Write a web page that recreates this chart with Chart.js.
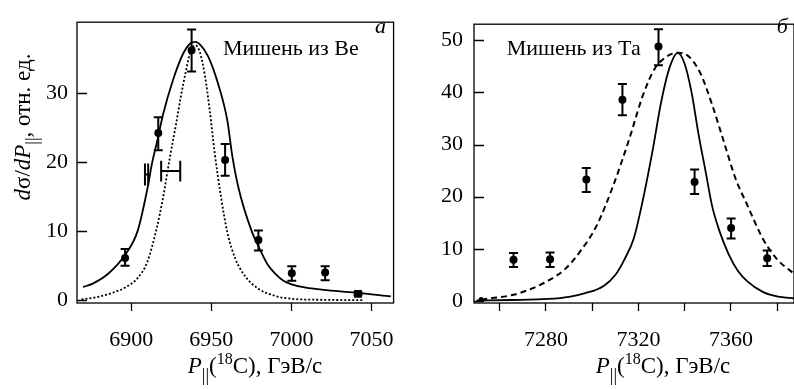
<!DOCTYPE html>
<html>
<head>
<meta charset="utf-8">
<script src="https://cdn.jsdelivr.net/npm/chart.js@4.4.0/dist/chart.umd.min.js"></script>
<style>
  body { margin: 0; background: #fff; width: 794px; height: 389px; overflow: hidden; position: relative; }
  .panel { position: absolute; top: 0; height: 389px; }
</style>
</head>
<body>
<div class="panel" style="left:0"><canvas id="chartBe" width="410" height="389"></canvas></div>
<div class="panel" style="left:410px"><canvas id="chartTa" width="388" height="389"></canvas></div>
<script>
// ---- panel a: Be target ----
const beP  = [6896.2, 6916.9, 6937.7, 6958.6, 6979.4, 7000.2, 7021.0, 7041.5];
const beY  = [6.1, 24.2, 36.2, 20.3, 8.7, 3.9, 4.0, 0.9];
const beLo = [5.0, 21.7, 33.1, 18.0, 7.2, 2.8, 2.9, 0.7];
const beHi = [7.4, 26.5, 39.2, 22.6, 10.1, 4.9, 4.9, 1.1];
// resolution bars
const resFrom = [6908.6, 6918.7];
const resTo   = [6910.6, 6930.6];
const resY    = [18.2, 18.7];
const resCap  = [1.6, 1.5];
// solid fit
const beFitP = [6870, 6876, 6886, 6896, 6904, 6910, 6913, 6916, 6920, 6926, 6932, 6937, 6940, 6943, 6948, 6954, 6960, 6963, 6967, 6975, 6980, 6985, 6990, 6995, 7000, 7009, 7020, 7040, 7062];
const beFitY = [1.9, 2.4, 3.9, 6.5, 10.0, 16.0, 19.8, 22.8, 27.0, 31.8, 35.5, 37.2, 37.4, 37.0, 35.3, 31.5, 26.0, 21.0, 16.2, 10.1, 7.5, 5.2, 3.8, 2.8, 2.3, 1.8, 1.5, 1.1, 0.55];
// dotted curve
const beDotP = [6869, 6880, 6890, 6896, 6904, 6910, 6916, 6920, 6924, 6928, 6931, 6934, 6937, 6940, 6943, 6946, 6949, 6952, 6956, 6960, 6965, 6971, 6979, 6990, 7000, 7020, 7045];
const beDotY = [0.1, 0.5, 1.2, 1.8, 3.2, 5.5, 10.5, 15.0, 20.5, 25.5, 29.5, 33.0, 36.0, 36.9, 35.8, 32.5, 27.5, 21.5, 15.0, 9.8, 6.0, 3.5, 1.7, 0.6, 0.2, 0.05, 0];
const beXTicks = [6900, 6950, 7000, 7050];
const beXLabels = ['6900', '6950', '7000', '7050'];
const beYTicks = [0, 10, 20, 30];

// ---- panel b: Ta target ----
const taP  = [7266.0, 7281.8, 7297.5, 7313.1, 7328.7, 7344.3, 7360.1, 7375.7];
const taY  = [7.9, 8.0, 23.3, 38.6, 48.8, 22.8, 14.0, 8.2];
const taLo = [6.5, 6.5, 20.9, 35.6, 45.2, 20.5, 12.0, 6.7];
const taHi = [9.2, 9.3, 25.5, 41.6, 52.1, 25.2, 15.8, 9.7];
const taFitP = [7250, 7265, 7281, 7290, 7297, 7305, 7310, 7314, 7318, 7322, 7326, 7330, 7333.5, 7337, 7340, 7343, 7346, 7349, 7352, 7355, 7359, 7363, 7367, 7374, 7380, 7388];
const taFitY = [0.1, 0.2, 0.4, 0.8, 1.5, 2.9, 5.0, 8.0, 12.0, 19.5, 28.5, 38.5, 44.8, 47.6, 45.5, 40.0, 32.0, 25.0, 18.0, 13.5, 9.0, 5.8, 3.8, 1.7, 0.9, 0.5];
const taDashP = [7252, 7266, 7274, 7281, 7288, 7295, 7302, 7309, 7316, 7322, 7327, 7332, 7337, 7342, 7347, 7352, 7357, 7362, 7367, 7374, 7380, 7388];
const taDashY = [0.3, 1.2, 2.4, 3.9, 6.0, 9.6, 14.5, 22.0, 31.0, 39.5, 44.5, 46.8, 47.6, 46.8, 43.5, 37.5, 30.5, 23.5, 18.5, 11.8, 8.0, 5.0];
const taXTicks = [7260, 7280, 7300, 7320, 7340, 7360, 7380];
const taXLabels = ['', '7280', '', '7320', '', '7360', ''];
const taYTicks = [0, 10, 20, 30, 40, 50];

const FONT = '"Liberation Serif", "Times New Roman", serif';
const INK = '#000';

const pts = (xs, ys) => xs.map((v, i) => ({ x: v, y: ys[i] }));

// draws a line of text made of runs (italic / sub / sup), centred on x
function richText(ctx, runs, x, y, size) {
  let total = 0;
  const parts = runs.map(r => {
    const fs = r.sub ? Math.round(size * 0.8) : (r.sup ? Math.round(size * 0.7) : size);
    const font = (r.it ? 'italic ' : '') + fs + 'px ' + FONT;
    ctx.font = font;
    const w = ctx.measureText(r.t).width;
    total += w;
    return { t: r.t, font, w, dy: r.sub ? size * 0.36 : (r.sup ? -size * 0.38 : 0) };
  });
  let cx = x - total / 2;
  ctx.textAlign = 'left';
  ctx.textBaseline = 'alphabetic';
  parts.forEach(p => { ctx.font = p.font; ctx.fillText(p.t, cx, y + p.dy); cx += p.w; });
}

const xTitleRuns = [{ t: 'P', it: true }, { t: '||', sub: true }, { t: '(' }, { t: '18', sup: true }, { t: 'C), ГэВ/с' }];
const yTitleRuns = [{ t: 'd', it: true }, { t: 'σ' }, { t: '/' }, { t: 'd', it: true }, { t: 'P', it: true }, { t: '||', sub: true }, { t: ', отн. ед.' }];

function panelPlugin(o) {
  return {
    id: 'panelDecor',
    afterDatasetsDraw(chart) {
      const { ctx, chartArea: a, scales: { x, y } } = chart;
      ctx.save();
      ctx.strokeStyle = INK;
      ctx.fillStyle = INK;
      ctx.lineWidth = 1.3;
      ctx.strokeRect(a.left, a.top, a.right - a.left, a.bottom - a.top);
      // inward y ticks
      ctx.beginPath();
      o.yTicks.forEach(v => {
        const py = Math.round(y.getPixelForValue(v)) + 0.5;
        ctx.moveTo(a.left, py); ctx.lineTo(a.left + 10, py);
      });
      ctx.stroke();
      // vertical error bars
      ctx.lineWidth = 2;
      ctx.beginPath();
      o.p.forEach((p, i) => {
        const px = x.getPixelForValue(p);
        const y1 = y.getPixelForValue(o.lo[i]);
        const y2 = y.getPixelForValue(o.hi[i]);
        ctx.moveTo(px, y1); ctx.lineTo(px, y2);
        ctx.moveTo(px - 4.5, y1); ctx.lineTo(px + 4.5, y1);
        ctx.moveTo(px - 4.5, y2); ctx.lineTo(px + 4.5, y2);
      });
      ctx.stroke();
      // horizontal resolution bars
      if (o.res) {
        ctx.beginPath();
        o.res.from.forEach((f, i) => {
          const x1 = x.getPixelForValue(f), x2 = x.getPixelForValue(o.res.to[i]);
          const py = y.getPixelForValue(o.res.y[i]);
          const c1 = y.getPixelForValue(o.res.y[i] + o.res.cap[i]);
          const c2 = y.getPixelForValue(o.res.y[i] - o.res.cap[i]);
          ctx.moveTo(x1, py); ctx.lineTo(x2, py);
          ctx.moveTo(x1, c1); ctx.lineTo(x1, c2);
          ctx.moveTo(x2, c1); ctx.lineTo(x2, c2);
        });
        ctx.stroke();
      }
      // labels
      ctx.font = '22px ' + FONT;
      ctx.textAlign = 'left';
      ctx.textBaseline = 'alphabetic';
      ctx.fillText(o.target, o.targetX, 54.5);
      ctx.font = 'italic 22px ' + FONT;
      ctx.fillText(o.letter, o.letterX, 33);
      richText(ctx, xTitleRuns, o.xTitleX, 373, 23);
      if (o.yTitle) {
        ctx.save();
        ctx.translate(30, 127);
        ctx.rotate(-Math.PI / 2);
        richText(ctx, yTitleRuns, 0, 0, 23);
        ctx.restore();
      }
      ctx.restore();
    }
  };
}

function makeChart(id, o) {
  return new Chart(document.getElementById(id), {
    type: 'scatter',
    data: {
      datasets: [
        {
          data: pts(o.fitP, o.fitY), showLine: true, borderColor: INK, borderWidth: 1.8,
          pointRadius: 0, cubicInterpolationMode: 'monotone'
        },
        {
          data: pts(o.altP, o.altY), showLine: true, borderColor: INK, borderWidth: o.altWidth,
          borderDash: o.altDash, pointRadius: o.altDot, pointBackgroundColor: INK, pointBorderWidth: 0,
          cubicInterpolationMode: 'monotone'
        },
        {
          data: pts(o.p, o.y), pointStyle: o.styles, pointRadius: o.radii,
          backgroundColor: INK, borderColor: INK, borderWidth: 0
        }
      ]
    },
    options: {
      responsive: false,
      animation: false,
      layout: { padding: { top: 5, right: o.padRight, left: 0, bottom: 0 } },
      plugins: { legend: { display: false }, tooltip: { enabled: false } },
      scales: {
        x: {
          type: 'linear', min: o.xMin, max: o.xMax,
          afterBuildTicks: s => { s.ticks = o.xTicks.map(v => ({ value: v })); },
          afterFit: s => { s.height = 86; },
          grid: { drawOnChartArea: false, drawTicks: true, tickLength: 8, color: INK, tickWidth: 1.3 },
          border: { display: false },
          ticks: {
            autoSkip: false, maxRotation: 0, padding: 16, color: INK,
            font: { family: FONT, size: 22 },
            callback: (v, i) => o.xLabels[i]
          }
        },
        y: {
          type: 'linear', min: o.yMin, max: o.yMax,
          afterBuildTicks: s => { s.ticks = o.yTicks.map(v => ({ value: v })); },
          afterFit: s => { s.width = o.yWidth; },
          grid: { drawOnChartArea: false, drawTicks: false },
          border: { display: false },
          ticks: { padding: o.yPad, color: INK, font: { family: FONT, size: 22 } }
        }
      }
    },
    plugins: [panelPlugin(o)]
  });
}

makeChart('chartBe', {
  p: beP, y: beY, lo: beLo, hi: beHi,
  styles: beP.map((_, i) => i === beP.length - 1 ? 'rect' : 'circle'),
  radii: beP.map((_, i) => i === beP.length - 1 ? 5.5 : 4),
  fitP: beFitP, fitY: beFitY, altP: beDotP, altY: beDotY, altDash: [2, 2], altWidth: 1.8, altDot: 0,
  res: { from: resFrom, to: resTo, y: resY, cap: resCap },
  xMin: 6866.2, xMax: 7063.7, yMin: -0.41, yMax: 40.25,
  xTicks: beXTicks, xLabels: beXLabels, yTicks: beYTicks,
  yWidth: 77, yPad: 9, padRight: 4,
  target: 'Мишень из Be', targetX: 223, letter: 'а', letterX: 375, xTitleX: 255, yTitle: true
});

makeChart('chartTa', {
  p: taP, y: taY, lo: taLo, hi: taHi,
  styles: 'circle', radii: 4,
  fitP: taFitP, fitY: taFitY, altP: taDashP, altY: taDashY, altDash: [6, 4], altWidth: 2,
  altDot: ctx => ctx.dataIndex === 0 ? 2.5 : 0,
  xMin: 7248.9, xMax: 7387.3, yMin: -0.38, yMax: 53.08,
  xTicks: taXTicks, xLabels: taXLabels, yTicks: taYTicks,
  yWidth: 64, yPad: 11, padRight: 0,
  target: 'Мишень из Та', targetX: 96.7, letter: 'б', letterX: 366.7, xTitleX: 253, yTitle: false
});
</script>
</body>
</html>
